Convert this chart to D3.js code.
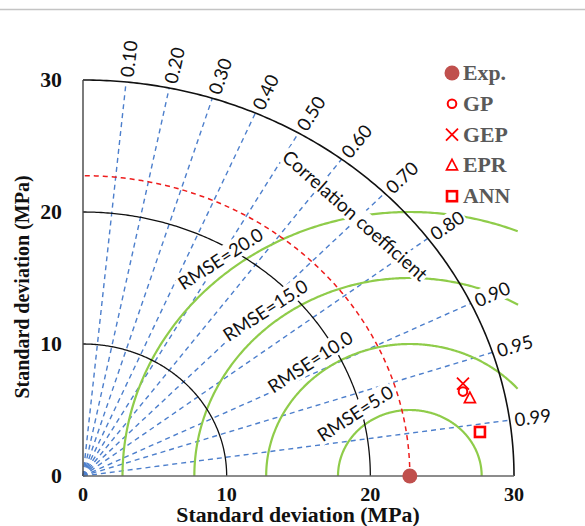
<!DOCTYPE html>
<html><head><meta charset="utf-8">
<script src="https://cdn.jsdelivr.net/npm/d3@7"></script>
<style>body{margin:0;background:#fff}svg{display:block}</style>
</head><body>
<script>
// ---- data ----
const refStd = 22.75;                       // Exp.
const corrTicks = [0.10,0.20,0.30,0.40,0.50,0.60,0.70,0.80,0.90,0.95,0.99];
const corrTickLabels = ["0.10","0.20","0.30","0.40","0.50","0.60","0.70","0.80","0.90","0.95","0.99"];
const rmseLevels = [5,10,15,20];
const rmseLabels = ["RMSE=5.0","RMSE=10.0","RMSE=15.0","RMSE=20.0"];
const stdArcs = [10,20,30];
const axisTicks = [0,10,20,30];
const modelNames = ["GP","GEP","EPR","ANN"];
const modelStd = [27.21,27.36,27.57,27.83];
const modelCorr = [0.972,0.9667,0.9768,0.9928];
const legendNames = ["Exp.","GP","GEP","EPR","ANN"];

const W=585,H=526, maxStd=30;
const svg=d3.select("body").append("svg").attr("width",W).attr("height",H);
const x=d3.scaleLinear().domain([0,30]).range([83,514]);
const y=d3.scaleLinear().domain([0,30]).range([476,80]);
const line=d3.line().x(d=>x(d[0])).y(d=>y(d[1]));
const P=(r,a)=>[r*Math.cos(a),r*Math.sin(a)];

// top rule
svg.append("line").attr("x1",0).attr("x2",W).attr("y1",9.5).attr("y2",9.5).attr("stroke","#c4c4c4").attr("stroke-width",1.5);

const g=svg.append("g");
// correlation rays
corrTicks.forEach(c=>{
  const a=Math.acos(c);
  g.append("path").attr("d",line([[0,0],P(maxStd,a)])).attr("fill","none")
   .attr("stroke","#4d7fcc").attr("stroke-width",1.4).attr("stroke-dasharray","5,4");
});
// RMSE arcs (green)
rmseLevels.forEach(r=>{
  const pts=[]; const xmax=30.3;
  for(let i=0;i<=400;i++){const phi=Math.PI*(1-i/400);const px=refStd+r*Math.cos(phi),py=r*Math.sin(phi); if(px<=xmax) pts.push([px,py]);}
  g.append("path").attr("d",line(pts)).attr("fill","none").attr("stroke","#8fcc4a").attr("stroke-width",2.2);
});
// std arcs (black)
stdArcs.forEach(r=>{
  const pts=d3.range(0,201).map(i=>P(r,Math.PI/2*i/200));
  g.append("path").attr("d",line(pts)).attr("fill","none").attr("stroke","#111").attr("stroke-width",r===30?1.6:1.3);
});
// reference arc (red dashed)
g.append("path").attr("d",line(d3.range(0,201).map(i=>P(refStd,Math.PI/2*i/200))))
 .attr("fill","none").attr("stroke","#ee1c1c").attr("stroke-width",1.5).attr("stroke-dasharray","5,4");

// axes
const ax=svg.append("g");
ax.append("line").attr("x1",x(0)).attr("x2",x(0)).attr("y1",y(0)).attr("y2",y(30)).attr("stroke","#444").attr("stroke-width",1.4);
ax.append("line").attr("x1",x(0)).attr("x2",x(30)).attr("y1",y(0)).attr("y2",y(0)).attr("stroke","#666").attr("stroke-width",1.4);
const serif="'Liberation Serif','Times New Roman',serif";
axisTicks.forEach(t=>{
  svg.append("text").attr("transform",`translate(${x(t)},501) scale(1.09,1)`).attr("text-anchor","middle")
   .attr("font-family",serif).attr("font-weight","bold").attr("font-size",18.5).attr("fill","#111").text(t);
  svg.append("text").attr("transform",`translate(62,${y(t)+7}) scale(1.09,1)`).attr("text-anchor","end")
   .attr("font-family",serif).attr("font-weight","bold").attr("font-size",20).attr("fill","#111").text(t);
});
svg.append("text").attr("transform",`translate(298,522) scale(1.09,1)`).attr("text-anchor","middle")
 .attr("font-family",serif).attr("font-weight","bold").attr("font-size",20).attr("fill","#111").text("Standard deviation (MPa)");
svg.append("text").attr("transform",`translate(29,287) rotate(-90) scale(1,1.09)`).attr("text-anchor","middle")
 .attr("font-family",serif).attr("font-weight","bold").attr("font-size",20).attr("fill","#111").text("Standard deviation (MPa)");

// labels with white background
const sans="Lato,'Open Sans',sans-serif";
function boxedText(px,py,rot,txt,size,anchor){
  const gg=svg.append("g").attr("transform",`translate(${px},${py}) rotate(${rot})`);
  const r=gg.append("rect").attr("fill","#fff");
  const t=gg.append("text").attr("text-anchor",anchor).attr("dominant-baseline","central")
    .attr("font-family",sans).attr("font-size",size).attr("fill","#111").text(txt);
  const b=t.node().getBBox();
  r.attr("x",b.x-1).attr("y",b.y+1).attr("width",b.width+2).attr("height",b.height-2);
  return gg;
}
// correlation tick labels
corrTicks.forEach((c,i)=>{
  const a=Math.acos(c);
  const p=P(maxStd,a); const dx=Math.cos(a)*14.37, dy=Math.sin(a)*13.2; const L=Math.hypot(dx,dy);
  const pa=Math.atan2(dy,dx);
  boxedText(x(p[0])+dx/L*5,y(p[1])-dy/L*5,-pa*180/Math.PI,corrTickLabels[i],18.5,"start");
});
// "Correlation coefficient"
{
  const a=46.2*Math.PI/180, r=27.4; const p=P(r,a);
  boxedText(x(p[0]),y(p[1]),41.5,"Correlation coefficient",19,"middle");
}
// RMSE labels
rmseLevels.forEach((r,i)=>{
  const a=128.7*Math.PI/180; const px=refStd+(r+1.1)*Math.cos(a), py=(r+1.1)*Math.sin(a);
  boxedText(x(px),y(py),-33,rmseLabels[i],18.5,"middle");
});

// markers
const red="#ff0000", expCol="#c0504d";
function marker(sel,name,cx,cy){
  if(name==="Exp.") sel.append("circle").attr("cx",cx).attr("cy",cy).attr("r",7.5).attr("fill",expCol);
  else if(name==="GP") sel.append("circle").attr("cx",cx).attr("cy",cy).attr("r",4.3).attr("fill","none").attr("stroke",red).attr("stroke-width",2);
  else if(name==="GEP") sel.append("path").attr("d",`M${cx-6},${cy-6}L${cx+6},${cy+6}M${cx-6},${cy+6}L${cx+6},${cy-6}`).attr("stroke",red).attr("stroke-width",1.8);
  else if(name==="EPR") sel.append("path").attr("d",`M${cx},${cy-6}L${cx+5.5},${cy+4.5}L${cx-5.5},${cy+4.5}Z`).attr("fill","none").attr("stroke",red).attr("stroke-width",1.7);
  else if(name==="ANN") sel.append("rect").attr("x",cx-5).attr("y",cy-5).attr("width",10).attr("height",10).attr("fill","none").attr("stroke",red).attr("stroke-width",2.6);
}
marker(svg,"Exp.",x(refStd),y(0));
modelNames.forEach((n,i)=>{
  const a=Math.acos(modelCorr[i]); const p=P(modelStd[i],a);
  marker(svg,n,x(p[0]),y(p[1]));
});
// legend
legendNames.forEach((n,i)=>{
  const ly=73+i*30.8;
  marker(svg,n,452,ly);
  svg.append("text").attr("transform",`translate(463,${ly+7}) scale(1.09,1)`).attr("font-family",serif)
   .attr("font-weight","bold").attr("font-size",20).attr("fill","#595959").text(n);
});
</script>
</body></html>
